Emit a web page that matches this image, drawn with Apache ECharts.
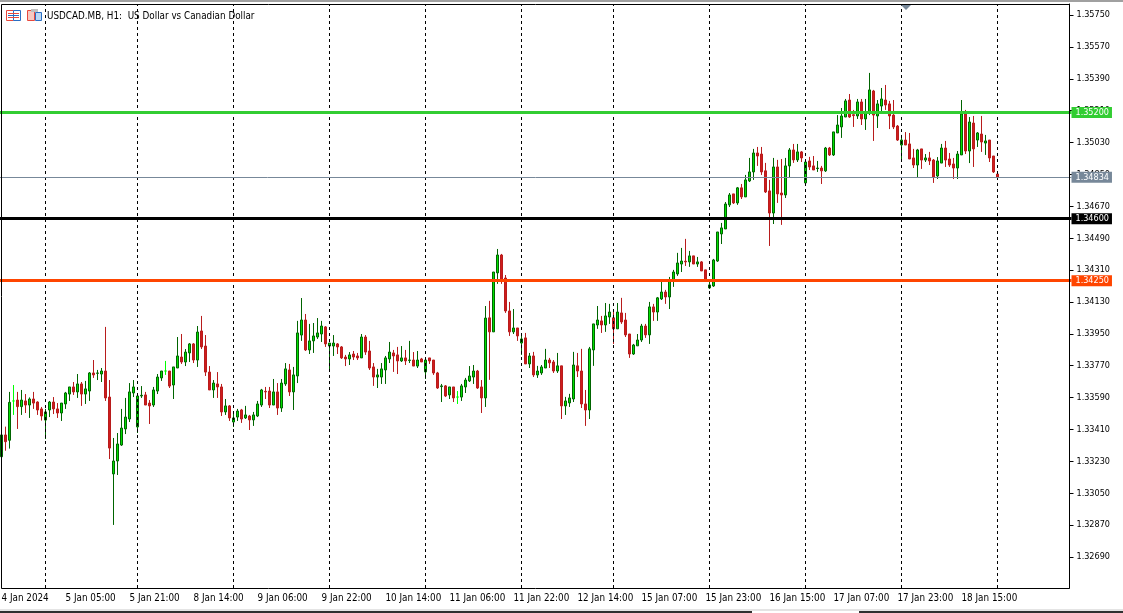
<!DOCTYPE html>
<html>
<head>
<meta charset="utf-8">
<title>USDCAD.MB, H1</title>
<style>
html,body{margin:0;padding:0;background:#fff;}
#main{width:1123px;height:613px;}
</style>
<script src="https://cdn.jsdelivr.net/npm/echarts@6/dist/echarts.min.js"></script>
</head>
<body>
<div id="main"></div>
<script>
var chartTitle = 'USDCAD.MB, H1:  US Dollar vs Canadian Dollar';

var opens = [
1.33256,1.33379,1.33349,1.33571,1.33576,1.33539,1.33571,1.33548,1.33582,1.33565,
1.33526,1.33463,1.33520,1.33565,1.33526,1.33503,1.33554,1.33610,1.33650,1.33622,
1.33667,1.33610,1.33627,1.33729,1.33727,1.33723,1.33740,1.33593,1.33159,1.33232,
1.33322,1.33413,1.33469,1.33616,1.33424,1.33599,1.33605,1.33559,1.33548,1.33627,
1.33701,1.33740,1.33740,1.33661,1.33757,1.33819,1.33791,1.33842,1.33893,1.33802,
1.33966,1.33881,1.33734,1.33633,1.33667,1.33650,1.33509,1.33543,1.33452,1.33480,
1.33520,1.33475,1.33486,1.33464,1.33486,1.33548,1.33625,1.33627,1.33548,1.33622,
1.33531,1.33667,1.33746,1.33622,1.33712,1.33943,1.34028,1.33859,1.33910,1.33932,
1.33949,1.33989,1.33881,1.33881,1.33893,1.33876,1.33819,1.33808,1.33836,1.33825,
1.33814,1.33932,1.33853,1.33763,1.33706,1.33706,1.33746,1.33808,1.33842,1.33831,
1.33797,1.33814,1.33800,1.33802,1.33768,1.33808,1.33735,1.33814,1.33802,1.33729,
1.33652,1.33656,1.33605,1.33650,1.33593,1.33593,1.33650,1.33684,1.33706,1.33740,
1.33650,1.33588,1.34040,1.33961,1.34294,1.34395,1.34265,1.34079,1.33961,1.33983,
1.33898,1.33927,1.33780,1.33825,1.33718,1.33729,1.33757,1.33802,1.33791,1.33740,
1.33769,1.33543,1.33560,1.33582,1.33769,1.33740,1.33554,1.33520,1.33859,1.34000,
1.34023,1.34000,1.34045,1.34040,1.33978,1.34068,1.34028,1.33949,1.33836,1.33882,
1.33915,1.33994,1.33944,1.34102,1.34073,1.34147,1.34186,1.34158,1.34254,1.34288,
1.34344,1.34360,1.34356,1.34390,1.34344,1.34356,1.34311,1.34209,1.34220,1.34361,
1.34514,1.34542,1.34678,1.34740,1.34689,1.34774,1.34723,1.34813,1.34864,1.34971,
1.34965,1.34870,1.34757,1.34632,1.34892,1.34745,1.34734,1.34898,1.34988,1.34932,
1.34977,1.34802,1.34926,1.34898,1.34883,1.34886,1.34870,1.34999,1.34960,1.35084,
1.35118,1.35174,1.35270,1.35187,1.35180,1.35259,1.35163,1.35202,1.35321,1.35180,
1.35236,1.35270,1.35248,1.35185,1.35123,1.35016,1.35044,1.35022,1.34943,1.34903,
1.34994,1.34931,1.34943,1.34931,1.34841,1.34914,1.34999,1.34937,1.34909,1.34886,
1.34960,1.35191,1.34982,1.35140,1.35044,1.35078,1.35027,1.35044,1.34954,1.34852
];
var closes = [
1.33379,1.33341,1.33563,1.33571,1.33539,1.33576,1.33548,1.33582,1.33559,1.33520,
1.33486,1.33509,1.33565,1.33526,1.33503,1.33559,1.33616,1.33650,1.33622,1.33667,
1.33610,1.33639,1.33729,1.33718,1.33729,1.33740,1.33588,1.33305,1.33232,1.33328,
1.33418,1.33480,1.33622,1.33650,1.33599,1.33603,1.33548,1.33543,1.33633,1.33706,
1.33740,1.33740,1.33655,1.33763,1.33825,1.33791,1.33847,1.33893,1.33802,1.33960,
1.33876,1.33734,1.33633,1.33672,1.33650,1.33509,1.33543,1.33475,1.33475,1.33514,
1.33469,1.33492,1.33464,1.33492,1.33554,1.33633,1.33622,1.33548,1.33622,1.33531,
1.33672,1.33752,1.33622,1.33718,1.33955,1.34028,1.33859,1.33910,1.33938,1.33955,
1.33994,1.33893,1.33898,1.33898,1.33876,1.33814,1.33808,1.33831,1.33819,1.33814,
1.33932,1.33847,1.33757,1.33706,1.33718,1.33752,1.33814,1.33847,1.33825,1.33797,
1.33814,1.33797,1.33802,1.33768,1.33802,1.33791,1.33802,1.33797,1.33729,1.33644,
1.33656,1.33599,1.33650,1.33588,1.33593,1.33656,1.33689,1.33712,1.33740,1.33644,
1.33588,1.34039,1.33961,1.34299,1.34395,1.34254,1.34079,1.33961,1.33983,1.33938,
1.33921,1.33780,1.33825,1.33718,1.33740,1.33763,1.33802,1.33786,1.33740,1.33769,
1.33543,1.33571,1.33588,1.33774,1.33740,1.33554,1.33520,1.33865,1.34006,1.34028,
1.34000,1.34051,1.34073,1.33978,1.34073,1.34017,1.33944,1.33836,1.33887,1.33915,
1.33994,1.33944,1.34102,1.34073,1.34153,1.34186,1.34158,1.34254,1.34299,1.34350,
1.34361,1.34356,1.34390,1.34344,1.34356,1.34305,1.34254,1.34226,1.34367,1.34525,
1.34548,1.34683,1.34734,1.34689,1.34774,1.34723,1.34819,1.34864,1.34971,1.34954,
1.34864,1.34751,1.34632,1.34892,1.34740,1.34734,1.34898,1.34988,1.34932,1.34977,
1.34943,1.34920,1.34892,1.34875,1.34886,1.34870,1.34999,1.34960,1.35090,1.35129,
1.35180,1.35265,1.35174,1.35182,1.35259,1.35163,1.35202,1.35327,1.35185,1.35248,
1.35276,1.35242,1.35180,1.35118,1.35044,1.35044,1.35016,1.34937,1.34903,1.34988,
1.34931,1.34943,1.34926,1.34835,1.34926,1.34999,1.34931,1.34903,1.34886,1.34965,
1.35191,1.34982,1.35146,1.34994,1.35084,1.35033,1.35039,1.34943,1.34864,1.34834
];
var highs = [
1.33379,1.33426,1.33622,1.33661,1.33622,1.33633,1.33610,1.33591,1.33622,1.33569,
1.33537,1.33526,1.33571,1.33593,1.33559,1.33559,1.33622,1.33650,1.33678,1.33723,
1.33678,1.33684,1.33734,1.33802,1.33746,1.33757,1.33989,1.33689,1.33362,1.33390,
1.33526,1.33588,1.33672,1.33689,1.33599,1.33655,1.33622,1.33576,1.33650,1.33723,
1.33740,1.33797,1.33740,1.33763,1.33932,1.33949,1.33864,1.33898,1.33898,1.33994,
1.34051,1.33943,1.33768,1.33689,1.33734,1.33667,1.33582,1.33548,1.33509,1.33526,
1.33526,1.33543,1.33492,1.33509,1.33571,1.33639,1.33650,1.33650,1.33695,1.33672,
1.33695,1.33785,1.33780,1.33763,1.34023,1.34152,1.34062,1.34006,1.34011,1.34039,
1.34023,1.33994,1.33898,1.33943,1.33898,1.33881,1.33831,1.33847,1.33853,1.33842,
1.33949,1.33943,1.33910,1.33785,1.33752,1.33785,1.33825,1.33904,1.33859,1.33876,
1.33881,1.33859,1.33910,1.33847,1.33853,1.33814,1.33819,1.33814,1.33802,1.33735,
1.33667,1.33661,1.33650,1.33650,1.33627,1.33667,1.33701,1.33768,1.33774,1.33746,
1.33689,1.34107,1.34136,1.34299,1.34429,1.34401,1.34282,1.34130,1.34090,1.33983,
1.33949,1.33955,1.33842,1.33848,1.33769,1.33774,1.33865,1.33814,1.33802,1.33842,
1.33769,1.33594,1.33611,1.33848,1.33842,1.33865,1.33633,1.33876,1.34006,1.34107,
1.34051,1.34124,1.34119,1.34073,1.34124,1.34153,1.34068,1.33949,1.33893,1.33949,
1.34006,1.34006,1.34130,1.34119,1.34158,1.34243,1.34198,1.34271,1.34311,1.34407,
1.34435,1.34486,1.34418,1.34390,1.34384,1.34361,1.34311,1.34254,1.34373,1.34525,
1.34576,1.34694,1.34745,1.34740,1.34779,1.34796,1.34847,1.34943,1.34994,1.35005,
1.35005,1.34915,1.34819,1.34943,1.34932,1.34937,1.34943,1.34999,1.35022,1.35022,
1.34982,1.34920,1.34949,1.34954,1.34926,1.34898,1.35005,1.35005,1.35090,1.35185,
1.35225,1.35276,1.35304,1.35214,1.35276,1.35276,1.35276,1.35423,1.35327,1.35270,
1.35338,1.35355,1.35265,1.35270,1.35129,1.35073,1.35089,1.35084,1.34994,1.34994,
1.34994,1.34965,1.34977,1.34937,1.34948,1.35022,1.35039,1.34971,1.34943,1.34982,
1.35270,1.35214,1.35174,1.35180,1.35089,1.35180,1.35073,1.35044,1.34954,1.34852
];
var lows = [
1.33234,1.33290,1.33302,1.33492,1.33413,1.33492,1.33503,1.33475,1.33526,1.33492,
1.33460,1.33356,1.33480,1.33497,1.33475,1.33458,1.33526,1.33571,1.33605,1.33588,
1.33543,1.33554,1.33571,1.33701,1.33689,1.33678,1.33571,1.33243,1.32871,1.33153,
1.33317,1.33384,1.33452,1.33593,1.33390,1.33588,1.33548,1.33441,1.33537,1.33610,
1.33684,1.33718,1.33644,1.33582,1.33757,1.33780,1.33768,1.33791,1.33785,1.33763,
1.33864,1.33712,1.33633,1.33588,1.33588,1.33486,1.33492,1.33458,1.33424,1.33458,
1.33447,1.33469,1.33407,1.33430,1.33480,1.33537,1.33582,1.33531,1.33548,1.33492,
1.33509,1.33656,1.33599,1.33520,1.33672,1.33910,1.33853,1.33836,1.33842,1.33921,
1.33904,1.33876,1.33735,1.33825,1.33836,1.33808,1.33768,1.33774,1.33802,1.33802,
1.33814,1.33831,1.33746,1.33656,1.33644,1.33667,1.33667,1.33785,1.33735,1.33723,
1.33791,1.33774,1.33785,1.33768,1.33757,1.33791,1.33695,1.33780,1.33718,1.33639,
1.33565,1.33593,1.33582,1.33565,1.33554,1.33571,1.33616,1.33678,1.33667,1.33639,
1.33503,1.33537,1.33690,1.33961,1.34232,1.34232,1.34068,1.33938,1.33949,1.33910,
1.33831,1.33780,1.33757,1.33706,1.33701,1.33718,1.33757,1.33757,1.33729,1.33729,
1.33469,1.33492,1.33537,1.33565,1.33706,1.33531,1.33430,1.33469,1.33769,1.33978,
1.33955,1.33961,1.34006,1.33893,1.33978,1.34006,1.33932,1.33814,1.33831,1.33882,
1.33904,1.33927,1.33893,1.34023,1.34023,1.34141,1.34119,1.34090,1.34215,1.34277,
1.34299,1.34333,1.34328,1.34344,1.34328,1.34305,1.34254,1.34203,1.34215,1.34356,
1.34457,1.34542,1.34666,1.34683,1.34678,1.34711,1.34723,1.34807,1.34819,1.34898,
1.34847,1.34745,1.34446,1.34570,1.34689,1.34565,1.34717,1.34830,1.34915,1.34920,
1.34920,1.34802,1.34875,1.34875,1.34864,1.34796,1.34864,1.34954,1.34954,1.35084,
1.35056,1.35174,1.35169,1.35118,1.35163,1.35129,1.35101,1.35185,1.35039,1.35112,
1.35202,1.35214,1.35106,1.35106,1.35039,1.34937,1.35016,1.34937,1.34886,1.34830,
1.34881,1.34920,1.34903,1.34802,1.34824,1.34914,1.34892,1.34892,1.34824,1.34824,
1.34960,1.34965,1.34914,1.34892,1.35005,1.34977,1.34960,1.34920,1.34858,1.34834
];

//open equals close on these bars, MT5 paints them in the lime line colour
var dojiBars = [3, 41, 114];

var priceTicks = [1.35750,1.35570,1.35390,1.35210,1.35030,1.34850,1.34670,1.34490,1.34310,
    1.34130,1.33950,1.33770,1.33590,1.33410,1.33230,1.33050,1.32870,1.32690];
var timeLabels = ['4 Jan 2024','5 Jan 05:00','5 Jan 21:00','8 Jan 14:00','9 Jan 06:00','9 Jan 22:00',
    '10 Jan 14:00','11 Jan 06:00','11 Jan 22:00','12 Jan 14:00','15 Jan 07:00','15 Jan 23:00',
    '16 Jan 15:00','17 Jan 07:00','17 Jan 23:00','18 Jan 15:00'];
var separatorBars = [11, 34, 58, 82, 106, 130, 153, 177, 201, 225, 249];
var levelPrices = [1.35200, 1.34600, 1.34250];
var levelColors = ['#32cd32', '#000000', '#ff4500'];
var bidPrice = 1.34834;

var slotCount = 268; //250 bars plus the empty shift on the right, 4px per slot
var labelStep = 16;
var font = '"DejaVu Sans Condensed", "DejaVu Sans", sans-serif';

var categories = [];
for (var i = 0; i < slotCount; i++) {
    categories.push(i % labelStep === 0 ? (timeLabels[i / labelStep] || '') : '');
}

var candles = [];
for (var k = 0; k < opens.length; k++) {
    var item = {value: [opens[k], closes[k], lows[k], highs[k]]};
    if (dojiBars.indexOf(k) >= 0) {
        item.itemStyle = {color: '#00ff00', color0: '#00ff00', borderColor: '#00ff00', borderColor0: '#00ff00'};
    }
    candles.push(item);
}

function showEveryStep(index) {
    return index % labelStep === 0 && index / labelStep < timeLabels.length;
}

var levelLines = levelPrices.map(function (price, n) {
    return {
        yAxis: price,
        lineStyle: {color: levelColors[n], width: 3, type: 'solid'},
        label: {backgroundColor: levelColors[n]}
    };
});
levelLines.push({
    yAxis: bidPrice,
    lineStyle: {color: '#778899', width: 1, type: 'solid'},
    label: {backgroundColor: '#778899'}
});

var chart = echarts.init(document.getElementById('main'));
chart.setOption({
    animation: false,
    backgroundColor: '#ffffff',
    title: {
        text: chartTitle,
        left: 47,
        top: 11,
        padding: 0,
        textStyle: {fontFamily: font, fontSize: 9.8, fontWeight: 'normal', color: '#000'}
    },
    //half pixel on the left so wicks land on whole pixel columns
    grid: {left: -0.5, top: 4, width: 1072, height: 584, show: false, outerBoundsMode: 'none'},
    xAxis: {
        type: 'category',
        data: categories,
        boundaryGap: true,
        axisLine: {show: false},
        axisTick: {alignWithLabel: true, length: 5, interval: showEveryStep, lineStyle: {color: '#000'}},
        axisLabel: {
            interval: showEveryStep,
            align: 'left',
            margin: 5,
            fontFamily: font,
            fontSize: 9.8,
            color: '#000',
            hideOverlap: false
        },
        splitLine: {show: false}
    },
    yAxis: {
        type: 'value',
        position: 'right',
        offset: -2,
        min: 1.325149,
        max: 1.358121,
        axisLine: {show: true, lineStyle: {color: '#000', width: 1}},
        axisTick: {show: true, length: 4, customValues: priceTicks, lineStyle: {color: '#000'}},
        axisLabel: {
            customValues: priceTicks,
            margin: 7,
            padding: [2, 0, 0, 0],
            fontFamily: font,
            fontSize: 9,
            color: '#000',
            formatter: function (v) { return v.toFixed(5); }
        },
        splitLine: {show: false}
    },
    series: [
        {
            //vertical day separators, under the candles
            type: 'line',
            z: 1,
            data: [],
            markLine: {
                silent: true,
                symbol: 'none',
                animation: false,
                label: {show: false},
                lineStyle: {color: '#000', width: 1, type: [3, 3]},
                data: separatorBars.map(function (b) { return {xAxis: b}; })
            }
        },
        {
            type: 'candlestick',
            z: 2,
            barWidth: 2,
            data: candles,
            itemStyle: {
                color: '#00e000',
                color0: '#d01c1c',
                borderColor: '#006400',
                borderColor0: '#b81c1c',
                borderWidth: 1
            }
        },
        {
            //horizontal levels and the bid line, over the candles
            type: 'line',
            z: 3,
            data: [],
            markLine: {
                silent: true,
                symbol: 'none',
                animation: false,
                precision: 5,
                label: {
                    show: true,
                    position: 'end',
                    distance: 0,
                    color: '#fff',
                    fontFamily: font,
                    fontSize: 9,
                    padding: [1, 3, 1, 4],
                    formatter: function (p) { return p.value.toFixed(5); }
                },
                data: levelLines
            }
        }
    ],
    graphic: [
        {type: 'rect', z: 10, silent: true, shape: {x: 0, y: 0, width: 1123, height: 2}, style: {fill: '#a0a0a0'}},
        {type: 'rect', z: 10, silent: true, shape: {x: 1.5, y: 4.5, width: 1068, height: 584}, style: {fill: 'none', stroke: '#000', lineWidth: 1}},
        {type: 'polygon', z: 10, silent: true, shape: {points: [[901, 5], [911, 5], [906, 10]]}, style: {fill: '#778899'}},
        //list icon
        {type: 'rect', z: 10, silent: true, shape: {x: 6.5, y: 10.5, width: 7, height: 10}, style: {fill: '#fff', stroke: '#e8483c', lineWidth: 1}},
        {type: 'rect', z: 10, silent: true, shape: {x: 13.5, y: 10.5, width: 7, height: 10}, style: {fill: '#fff', stroke: '#2a6fc4', lineWidth: 1}},
        {type: 'rect', z: 10, silent: true, shape: {x: 8, y: 13, width: 11, height: 1}, style: {fill: '#e8483c'}},
        {type: 'rect', z: 10, silent: true, shape: {x: 8, y: 15, width: 11, height: 1}, style: {fill: '#2a6fc4'}},
        {type: 'rect', z: 10, silent: true, shape: {x: 8, y: 17, width: 11, height: 1}, style: {fill: '#e8483c'}},
        //depth icon
        {type: 'rect', z: 10, silent: true, shape: {x: 27.5, y: 10.5, width: 7, height: 10}, style: {fill: '#f8c8c0', stroke: '#e8483c', lineWidth: 1}},
        {type: 'rect', z: 10, silent: true, shape: {x: 35.5, y: 12.5, width: 6, height: 8}, style: {fill: '#bcd8f4', stroke: '#2a6fc4', lineWidth: 1}},
        {type: 'rect', z: 10, silent: true, shape: {x: 31, y: 9, width: 7, height: 3}, style: {fill: '#c0c0c0'}},
        //terminal tab strip along the bottom
        {type: 'rect', z: 10, silent: true, shape: {x: 0, y: 609, width: 1123, height: 2}, style: {fill: '#e4e4e4'}},
        {type: 'rect', z: 10, silent: true, shape: {x: 0, y: 611, width: 752, height: 2}, style: {fill: '#303030'}},
        {type: 'rect', z: 10, silent: true, shape: {x: 859, y: 611, width: 264, height: 2}, style: {fill: '#303030'}}
    ]
});
</script>
</body>
</html>
